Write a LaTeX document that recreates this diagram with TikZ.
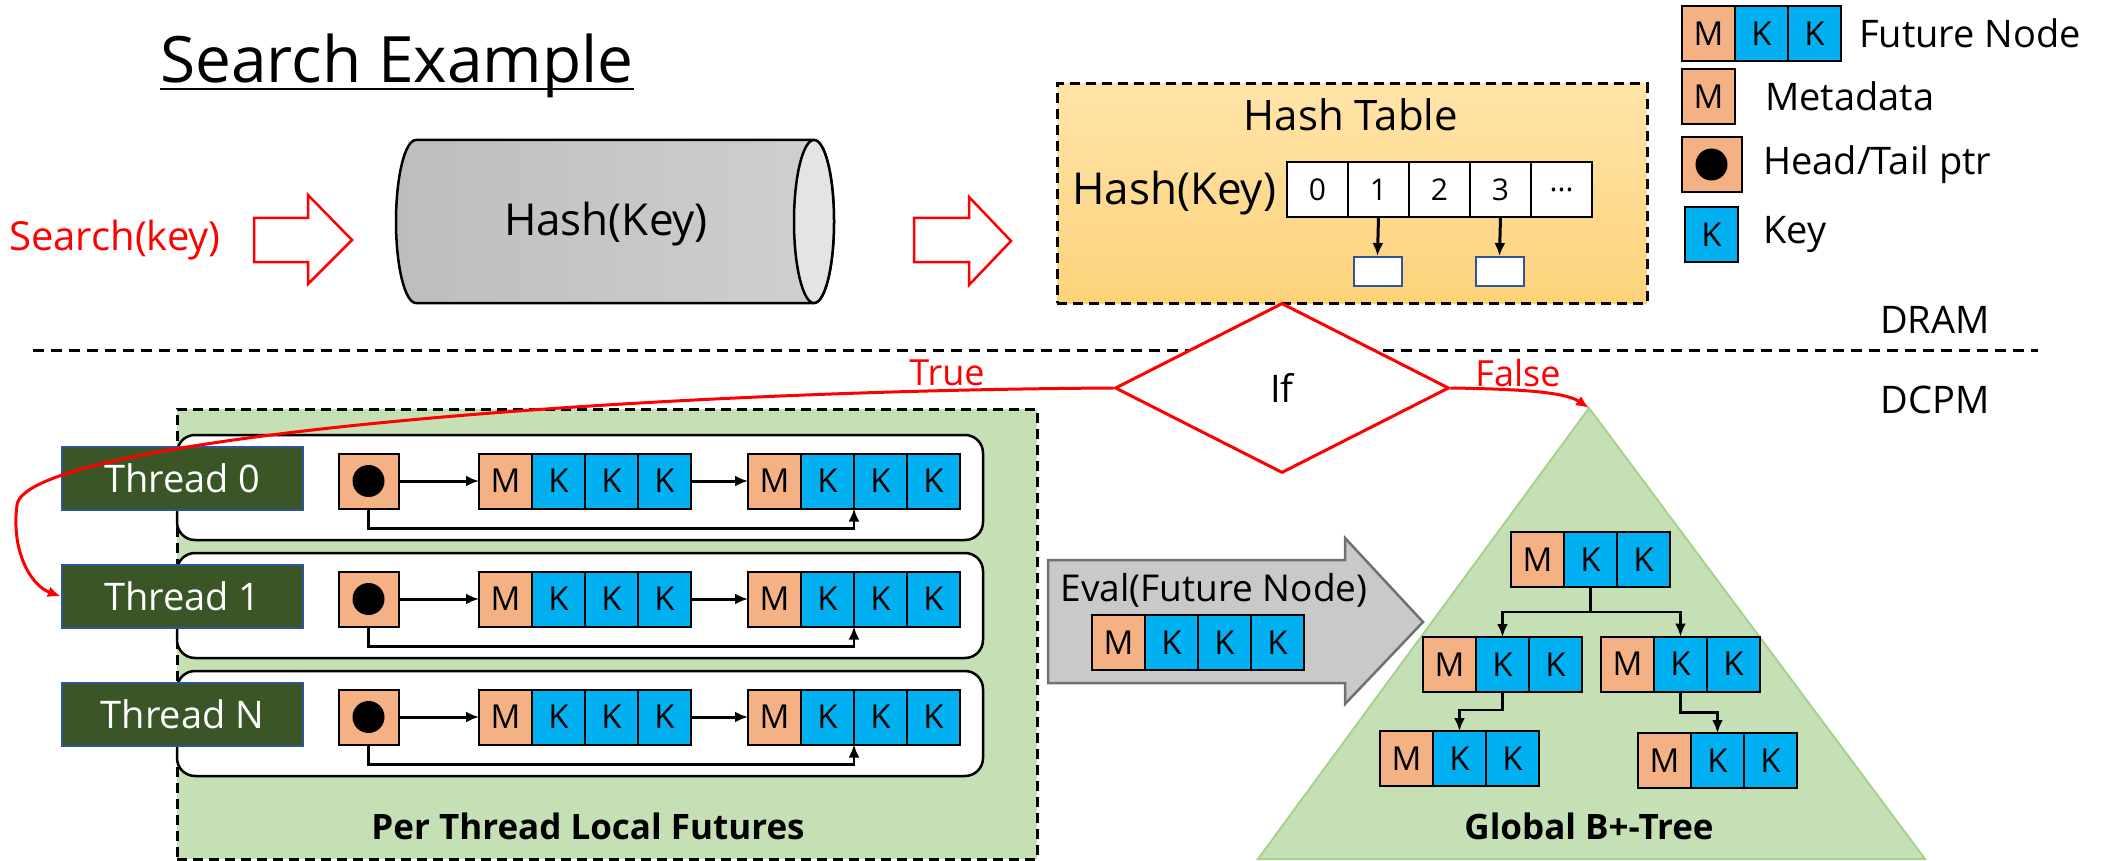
\documentclass[tikz,border=0pt]{standalone}
\usepackage{fontspec}
\setmainfont{Open Sans}
\usetikzlibrary{arrows.meta,shapes.geometric,calc}

\definecolor{mfill}{HTML}{F4B183}
\definecolor{kfill}{HTML}{00B0F0}
\definecolor{tgreen}{HTML}{3A5626}
\definecolor{tblue}{HTML}{2F5597}
\definecolor{lgreen}{HTML}{C5E0B4}
\definecolor{tredge}{HTML}{A9D18E}
\definecolor{htop}{HTML}{FFE4A9}
\definecolor{hbot}{HTML}{FDD27B}
\definecolor{evfill}{HTML}{C9C9C9}
\definecolor{evedge}{HTML}{707070}
\definecolor{cylA}{HTML}{BDBDBD}
\definecolor{cylB}{HTML}{D0D0D0}
\definecolor{cylface}{HTML}{E4E4E4}

\newcommand\fsz[1]{\fontsize{#1}{#1}\selectfont}

% a future node: metadata cell followed by key cells
\newcommand\futnode[4]{% name, left x, centre y, number of key cells
  \node[mcell, anchor=west] (#1-m) at (#2,#3) {M};
  \foreach \kk in {1,...,#4}{
    \node[kcell, anchor=west] (#1-k\kk) at ({#2+53*\kk},#3) {K};
  }
}

\begin{document}
\begin{tikzpicture}[x=1pt, y=-1pt,
  cell/.style={draw=black, line width=2pt, minimum width=53pt, minimum height=55pt,
    inner sep=0pt, outer sep=0pt, font=\fsz{33}},
  mcell/.style={cell, fill=mfill},
  kcell/.style={cell, fill=kfill},
  headbox/.style={cell, fill=mfill, minimum width=60pt,
    path picture={\fill[black] (path picture bounding box.center) circle[radius=16pt];}},
  hcell/.style={draw=black, fill=white, line width=2.5pt, minimum width=61pt,
    minimum height=55pt, inner sep=0pt, outer sep=0pt, font=\fsz{30}},
  bucket/.style={draw=tblue, fill=white, line width=2pt, minimum width=48pt,
    minimum height=29pt, inner sep=0pt},
  link/.style={draw=black, line width=3pt, -{Latex[length=13pt,width=11pt]}},
  redlink/.style={draw=red, line width=3pt, -{Latex[length=13pt,width=11pt]}},
  hollow/.style={draw=red, fill=white, line width=2.5pt, line join=miter},
  dashbox/.style={draw=black, line width=3pt, dash pattern=on 10pt off 6pt},
  rowbox/.style={draw=black, fill=white, line width=2.5pt, rounded corners=18pt,
    minimum width=806pt, minimum height=105pt, inner sep=0pt},
  thread/.style={draw=tblue, fill=tgreen, line width=2.5pt, minimum width=241pt,
    minimum height=63pt, inner sep=0pt, text=white, font=\fsz{38}},
  label/.style={font=\fsz{38}, inner sep=0pt},
]
\useasboundingbox (0,0) rectangle (2107,861);

% DRAM / DCPM boundary
\draw[line width=3pt, dash pattern=on 11pt off 7pt] (33,350) -- (2038,350);
\node[label] (dram) at (1935,320) {DRAM};
\node[label] (dcpm) at (1935,400) {DCPM};

% title
\node[anchor=base, inner sep=0pt, font=\fsz{64}] (title) at (397,83) {Search Example};
\draw[line width=2.5pt] ([yshift=-6pt]title.base west) -- ([yshift=-6pt]title.base east);

% request and hash function
\node[red, inner sep=0pt, font=\fsz{40}] (search) at (115,240) {Search(key)};
\draw[hollow] (254,218) -- (308,218) -- (308,195) -- (352,240) -- (308,284)
  -- (308,262) -- (254,262) -- cycle;
\draw[line width=2.5pt, left color=cylA, right color=cylB]
  (416,140) -- (814,140) arc[start angle=90, end angle=-90, x radius=20pt, y radius=81.5pt]
  -- (416,303) arc[start angle=270, end angle=90, x radius=20pt, y radius=81.5pt] -- cycle;
\draw[line width=2.5pt, fill=cylface] (814,221.5) ellipse[x radius=20pt, y radius=81.5pt];
\node[inner sep=0pt, font=\fsz{44}] (hashfn) at (606,224) {Hash(Key)};
\draw[hollow] (914,218) -- (969,218) -- (969,197) -- (1011,241) -- (969,285)
  -- (969,262) -- (914,262) -- cycle;

% hash table in DRAM
\node[dashbox, top color=htop, bottom color=hbot, minimum width=590pt,
  minimum height=219pt, inner sep=0pt] (ht) at (1352,193.5) {};
\node[inner sep=0pt, font=\fsz{42}] (httitle) at (1351,115) {Hash Table};
\node[inner sep=0pt, font=\fsz{44}, anchor=west] (htkey) at (1072,193) {Hash(Key)};
\foreach \lab [count=\i from 0] in {0,1,2,3}{
  \node[hcell, anchor=west] (c\i) at ({1287+61*\i},189.5) {\lab};
}
\node[hcell, anchor=west] (c4) at (1531,189.5) {...};
\node[bucket] (b1) at (1377.5,271.5) {};
\node[bucket] (b3) at (1499.5,271.5) {};
\draw[link] (c1.south) -- (b1.north);
\draw[link] (c3.south) -- (b3.north);

% legend
\futnode{lgf}{1682}{33.5}{2}
\node[label, anchor=west] (lgftxt) at (1859,33.5) {Future Node};
\node[mcell, anchor=west] (lgm) at (1682,96.5) {M};
\node[label, anchor=west] (lgmtxt) at (1765,96.5) {Metadata};
\node[headbox] (lgh) at (1711.5,164.5) {};
\node[label, anchor=west] (lghtxt) at (1763,164.5) {Head/Tail ptr};
\node[kcell] (lgk) at (1711.5,234.5) {K};
\node[label, anchor=west] (lgktxt) at (1763,234.5) {Key};

% per-thread local futures
\node[dashbox, fill=lgreen, minimum width=860pt, minimum height=450pt, inner sep=0pt]
  (gbox) at (607,634) {};
\foreach \r/\nm in {0/0,1/1,2/N}{
  \pgfmathsetmacro\yo{118*\r}
  \node[rowbox] (row\r) at (580,{487.5+\yo}) {};
  \node[thread] (t\r) at (182.5,{478.5+\yo}) {Thread \nm};
  \node[headbox] (h\r) at (368.5,{481+\yo}) {};
  \futnode{r\r a}{479}{481+\yo}{3}
  \futnode{r\r b}{748}{481+\yo}{3}
  \draw[link] (h\r.east) -- (r\r a-m.west);
  \draw[link] (r\r a-k3.east) -- (r\r b-m.west);
  \draw[link, line width=2.5pt] (h\r.south) -- ++(0,20) -| (r\r b-k1.south east);
}
\node[inner sep=0pt, font=\bfseries\fsz{35}] (gtxt) at (588,826) {Per Thread Local Futures};

% global B+-tree
\coordinate (apex) at (1589,408);
\draw[fill=lgreen, draw=tredge, line width=2pt] (apex) -- (1925,859) -- (1258,859) -- cycle;
\futnode{root}{1511}{559.5}{2}
\futnode{lva}{1423}{664.5}{2}
\futnode{lvb}{1601}{664}{2}
\futnode{lfa}{1380}{758.5}{2}
\futnode{lfb}{1638}{760.5}{2}
\draw[link, line width=2.5pt] (root-k1.south) -- ++(0,25) -| (lva-k1.north);
\draw[link, line width=2.5pt] (root-k1.south) -- ++(0,25) -| (lvb-k1.north);
\draw[link, line width=2.5pt] (lva-k1.south) -- ++(0,18) -| (lfa-k1.north);
\draw[link, line width=2.5pt] (lvb-k1.south) -- ++(0,21) -| (lfb-k1.north);
\node[inner sep=0pt, font=\bfseries\fsz{35}] (ttxt) at (1589,826) {Global B+-Tree};

% evaluation of a future node into the tree
\draw[fill=evfill, draw=evedge, line width=2.5pt, line join=miter]
  (1048,560) -- (1345,560) -- (1345,538) -- (1423,622) -- (1345,704) -- (1345,683)
  -- (1048,683) -- cycle;
\node[inner sep=0pt, font=\fsz{37}] (evtxt) at (1214,590) {Eval(Future Node)};
\futnode{ev}{1092}{642.5}{3}

% decision
\node[diamond, draw=red, fill=white, line width=3pt, minimum width=334pt,
  minimum height=170pt, inner sep=0pt, aspect=1.96, font=\fsz{38}] (if) at (1282,388) {If};
\node[red, inner sep=0pt, font=\fsz{36}] (truelbl) at (947,373) {True};
\node[red, inner sep=0pt, font=\fsz{36}] (falselbl) at (1518,373) {False};
\draw[redlink] (if.east) .. controls (1520,389) and (1565,392) .. (apex);
\draw[redlink] (if.west) .. controls (600,391) and (25,440) .. (17,505)
  .. controls (11,550) and (30,585) .. (t1.west);
\end{tikzpicture}
\end{document}
